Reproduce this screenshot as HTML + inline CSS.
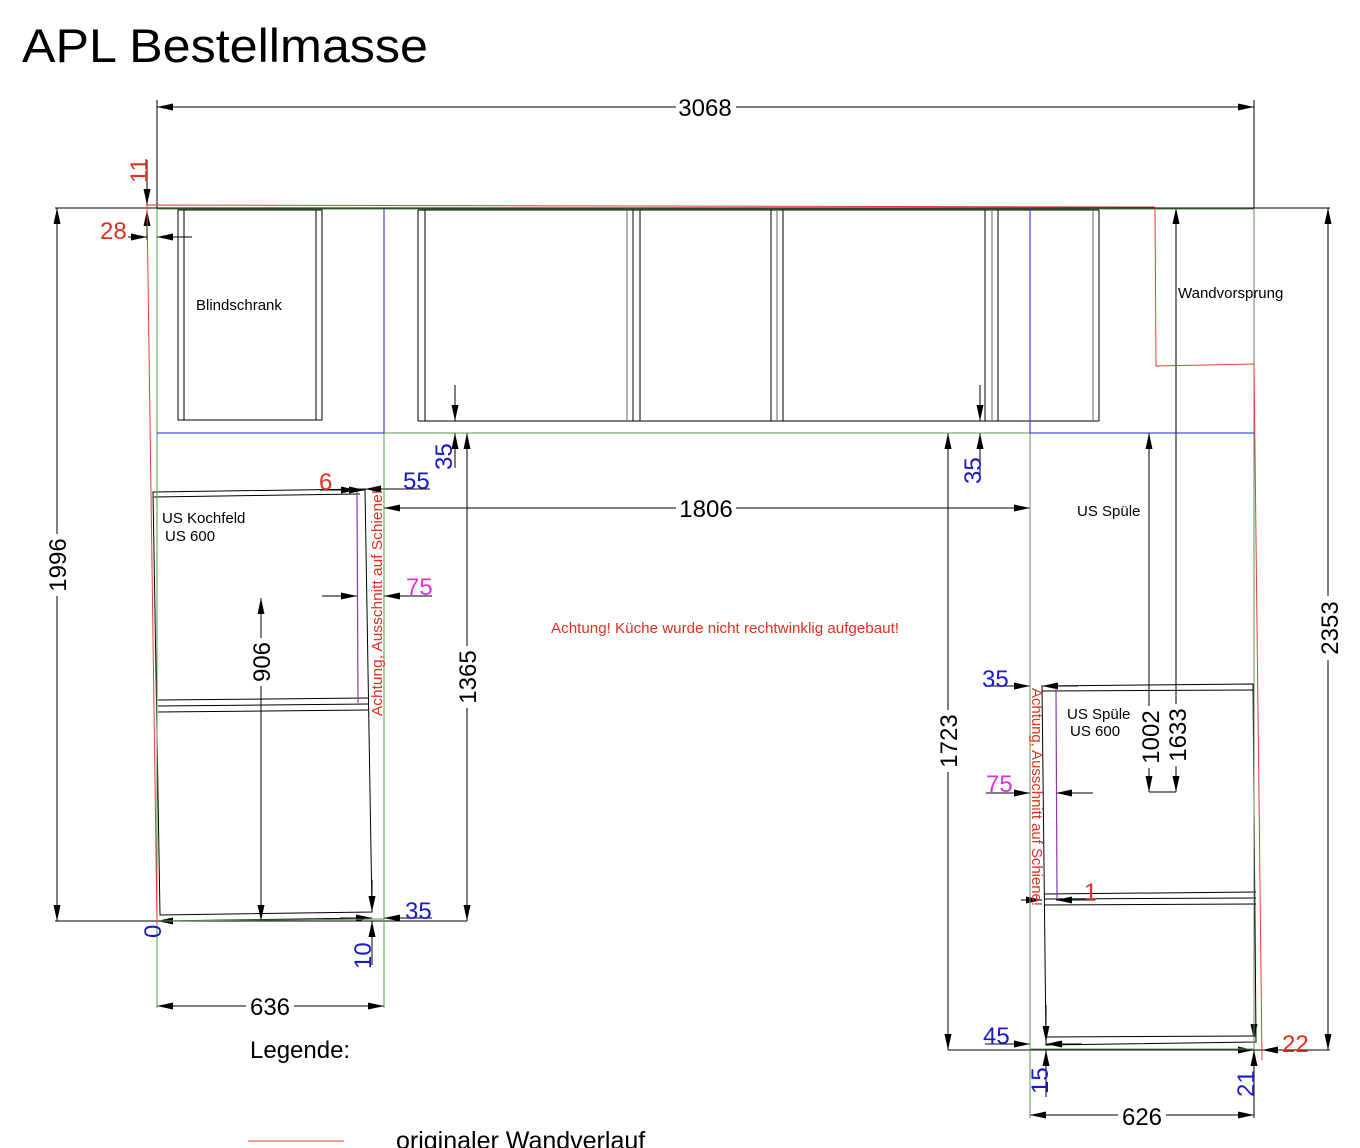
<!DOCTYPE html>
<html><head><meta charset="utf-8"><style>
html,body{margin:0;padding:0;background:#fff;}
svg{display:block;font-family:"Liberation Sans",Arial,sans-serif;}
</style></head><body>
<svg width="1360" height="1148" viewBox="0 0 1360 1148" xmlns="http://www.w3.org/2000/svg">
<defs>
<marker id="a" markerUnits="userSpaceOnUse" markerWidth="18" markerHeight="10" refX="16" refY="5" orient="auto-start-reverse"><path d="M0,1.5 L16,5 L0,8.5 Z" fill="#000"/></marker>
</defs>
<rect width="1360" height="1148" fill="#fff"/>
<text x="22" y="62" font-size="47" textLength="406" lengthAdjust="spacingAndGlyphs">APL Bestellmasse</text>

<g stroke="#000" stroke-width="1" fill="none">
<line x1="157" y1="100" x2="157" y2="208"/>
<line x1="1254" y1="100" x2="1254" y2="208"/>
<line x1="157" y1="107" x2="1254" y2="107" marker-start="url(#a)" marker-end="url(#a)"/>
<line x1="55" y1="208" x2="1330" y2="208"/>
<line x1="57" y1="208" x2="57" y2="921" marker-start="url(#a)" marker-end="url(#a)"/>
<line x1="55" y1="921" x2="467" y2="921"/>
<line x1="1328" y1="208" x2="1328" y2="1050" marker-start="url(#a)" marker-end="url(#a)"/>
<line x1="948" y1="1050" x2="1330" y2="1050"/>
<line x1="1176" y1="208" x2="1176" y2="792" marker-start="url(#a)" marker-end="url(#a)"/>
<line x1="1149" y1="433" x2="1149" y2="792" marker-start="url(#a)" marker-end="url(#a)"/>
<line x1="1149" y1="792" x2="1176" y2="792"/>
<line x1="467" y1="433" x2="467" y2="921" marker-start="url(#a)" marker-end="url(#a)"/>
<line x1="948" y1="433" x2="948" y2="1050" marker-start="url(#a)" marker-end="url(#a)"/>
<line x1="384" y1="508" x2="1030" y2="508" marker-start="url(#a)" marker-end="url(#a)"/>
<line x1="384" y1="433" x2="384" y2="1008"/>
<line x1="1030" y1="433" x2="1030" y2="1118"/>
<line x1="384" y1="433" x2="1030" y2="433"/>
<line x1="455" y1="385" x2="455" y2="421" marker-end="url(#a)"/>
<line x1="455" y1="468" x2="455" y2="433" marker-end="url(#a)"/>
<line x1="980" y1="385" x2="980" y2="421" marker-end="url(#a)"/>
<line x1="980" y1="480" x2="980" y2="433" marker-end="url(#a)"/>
<line x1="147" y1="160" x2="147" y2="205" marker-end="url(#a)"/>
<line x1="147" y1="240" x2="147" y2="210" marker-end="url(#a)"/>
<line x1="128" y1="237" x2="147" y2="237" marker-end="url(#a)"/>
<line x1="192" y1="237" x2="157" y2="237" marker-end="url(#a)"/>
<rect x="178" y="210" width="144" height="210"/>
<line x1="184" y1="210" x2="184" y2="420"/>
<line x1="316" y1="210" x2="316" y2="420"/>
<line x1="418" y1="210" x2="1099" y2="210"/>
<line x1="418" y1="421" x2="1099" y2="421"/>
<line x1="418" y1="210" x2="418" y2="421"/><line x1="425" y1="210" x2="425" y2="421"/>
<line x1="627" y1="210" x2="627" y2="421" stroke="#666"/><line x1="633" y1="210" x2="633" y2="421"/><line x1="640" y1="210" x2="640" y2="421"/>
<line x1="771" y1="210" x2="771" y2="421"/><line x1="777" y1="210" x2="777" y2="421" stroke="#666"/><line x1="783" y1="210" x2="783" y2="421"/>
<line x1="985" y1="210" x2="985" y2="421"/><line x1="992" y1="210" x2="992" y2="421" stroke="#666"/><line x1="998" y1="210" x2="998" y2="421"/>
<line x1="1093" y1="210" x2="1093" y2="421" stroke="#666"/><line x1="1099" y1="210" x2="1099" y2="421"/>
<path d="M153,492 L365,489 L372,912 L160,915 Z"/>
<line x1="154" y1="497" x2="360" y2="494"/>
<line x1="158" y1="700" x2="368" y2="698"/>
<line x1="158" y1="706" x2="368" y2="704"/>
<line x1="158" y1="712" x2="368" y2="710"/>
<line x1="160" y1="921" x2="372" y2="918"/>
<line x1="261" y1="598" x2="261" y2="921" marker-start="url(#a)" marker-end="url(#a)"/>
<line x1="320" y1="490" x2="357" y2="490" marker-end="url(#a)"/>
<line x1="340" y1="490" x2="365" y2="490" marker-end="url(#a)"/>
<line x1="430" y1="489" x2="365" y2="489" marker-end="url(#a)"/>
<line x1="322" y1="596" x2="357" y2="596" marker-end="url(#a)"/>
<line x1="432" y1="596" x2="384" y2="596" marker-end="url(#a)"/>
<line x1="197" y1="921" x2="157" y2="921" marker-end="url(#a)"/>
<line x1="340" y1="918" x2="372" y2="918" marker-end="url(#a)"/>
<line x1="432" y1="918" x2="384" y2="918" marker-end="url(#a)"/>
<line x1="372" y1="880" x2="372" y2="912" marker-end="url(#a)"/>
<line x1="372" y1="965" x2="372" y2="921" marker-end="url(#a)"/>
<line x1="157" y1="921" x2="157" y2="1008"/>
<line x1="157" y1="1006" x2="384" y2="1006" marker-start="url(#a)" marker-end="url(#a)"/>
<path d="M1042,686 L1253,684 L1256,1042 L1046,1045 Z"/>
<line x1="1042" y1="691" x2="1253" y2="690"/>
<line x1="1044" y1="894" x2="1256" y2="892"/>
<line x1="1044" y1="899" x2="1256" y2="898"/>
<line x1="1044" y1="905" x2="1256" y2="904"/>
<line x1="1046" y1="1037" x2="1256" y2="1036"/>
<line x1="985" y1="686" x2="1030" y2="686" marker-end="url(#a)"/>
<line x1="1078" y1="686" x2="1042" y2="686" marker-end="url(#a)"/>
<line x1="986" y1="793" x2="1030" y2="793" marker-end="url(#a)"/>
<line x1="1093" y1="793" x2="1056" y2="793" marker-end="url(#a)"/>
<line x1="1021" y1="900" x2="1042" y2="900" marker-end="url(#a)"/>
<line x1="1095" y1="900" x2="1056" y2="900" marker-end="url(#a)"/>
<line x1="985" y1="1044" x2="1030" y2="1044" marker-end="url(#a)"/>
<line x1="1082" y1="1044" x2="1046" y2="1044" marker-end="url(#a)"/>
<line x1="1046" y1="1005" x2="1046" y2="1042" marker-end="url(#a)"/>
<line x1="1046" y1="1097" x2="1046" y2="1050" marker-end="url(#a)"/>
<line x1="1254" y1="1000" x2="1254" y2="1040" marker-end="url(#a)"/>
<line x1="1254" y1="1097" x2="1254" y2="1050" marker-end="url(#a)"/>
<line x1="1218" y1="1050" x2="1254" y2="1050" marker-end="url(#a)"/>
<line x1="1310" y1="1050" x2="1262" y2="1050" marker-end="url(#a)"/>
<line x1="1254" y1="1050" x2="1254" y2="1118"/>
<line x1="1030" y1="1115" x2="1254" y2="1115" marker-start="url(#a)" marker-end="url(#a)"/>
</g>

<g stroke="#5a9a50" stroke-width="1" fill="none">
<line x1="157" y1="209" x2="157" y2="1008"/>
<line x1="157" y1="209" x2="1254" y2="209"/>
<line x1="384" y1="433" x2="1030" y2="433"/>
<line x1="384" y1="433" x2="384" y2="1008"/>
<line x1="1030" y1="433" x2="1030" y2="1118"/>
<line x1="1254" y1="209" x2="1254" y2="1050"/>
<line x1="160" y1="921" x2="384" y2="919"/>
<line x1="1030" y1="1049" x2="1254" y2="1049"/>
</g>
<g stroke="#2222cc" stroke-width="1">
<line x1="157" y1="433" x2="384" y2="433"/>
<line x1="384" y1="208" x2="384" y2="433"/>
<line x1="1030" y1="433" x2="1254" y2="433"/>
<line x1="1030" y1="208" x2="1030" y2="433"/>
</g>
<g stroke="#8a3aa8" stroke-width="1.2">
<line x1="357" y1="492" x2="358" y2="703"/>
<line x1="1056" y1="688" x2="1057" y2="898"/>
</g>
<g stroke="#e04030" stroke-width="1" fill="none">
<polyline points="157,925 147,205 1155,207 1156,366 1254,364 1262,1060"/>
<line x1="248" y1="1141" x2="344" y2="1141"/>
</g>

<g fill="#fff">
<rect x="676" y="95" width="60" height="24"/>
<rect x="676" y="497" width="60" height="24"/>
<rect x="455" y="646" width="24" height="62"/>
<rect x="936" y="710" width="24" height="62"/>
<rect x="1316" y="596" width="24" height="64"/>
<rect x="45" y="534" width="24" height="62"/>
<rect x="248" y="638" width="26" height="48"/>
<rect x="1137" y="706" width="26" height="62"/>
<rect x="1164" y="704" width="26" height="62"/>
<rect x="246" y="996" width="48" height="22"/>
<rect x="1118" y="1104" width="48" height="22"/>
</g>
<g font-size="24" fill="#000">
<text x="705" y="116" text-anchor="middle">3068</text>
<text x="706" y="517" text-anchor="middle">1806</text>
<text x="270" y="1015" text-anchor="middle">636</text>
<text x="1142" y="1125" text-anchor="middle">626</text>
<text transform="translate(66,565) rotate(-90)" text-anchor="middle">1996</text>
<text transform="translate(476,677) rotate(-90)" text-anchor="middle">1365</text>
<text transform="translate(957,741) rotate(-90)" text-anchor="middle">1723</text>
<text transform="translate(1338,628) rotate(-90)" text-anchor="middle">2353</text>
<text transform="translate(270,662) rotate(-90)" text-anchor="middle">906</text>
<text transform="translate(1159,737) rotate(-90)" text-anchor="middle">1002</text>
<text transform="translate(1186,735) rotate(-90)" text-anchor="middle">1633</text>
<text x="250" y="1058" font-size="24">Legende:</text>
<text x="396" y="1149" font-size="25">originaler Wandverlauf</text>
</g>
<g font-size="24" fill="#e03020">
<text transform="translate(147,183) rotate(-90)">11</text>
<text x="100" y="239">28</text>
<text x="319" y="490">6</text>
<text x="1084" y="900">1</text>
<text x="1282" y="1052">22</text>
</g>
<g font-size="24" fill="#1a1acc">
<text transform="translate(452,470) rotate(-90)">35</text>
<text transform="translate(981,484) rotate(-90)">35</text>
<text x="403" y="489">55</text>
<text x="405" y="919">35</text>
<text transform="translate(161,938) rotate(-90)">0</text>
<text transform="translate(371,969) rotate(-90)">10</text>
<text x="982" y="687">35</text>
<text x="983" y="1044">45</text>
<text transform="translate(1048,1094) rotate(-90)">15</text>
<text transform="translate(1254,1097) rotate(-90)">21</text>
</g>
<g font-size="24" fill="#dd33dd">
<text x="406" y="595">75</text>
<text x="986" y="792">75</text>
</g>
<g font-size="15" fill="#000">
<text x="196" y="310">Blindschrank</text>
<text x="1178" y="298">Wandvorsprung</text>
<text x="1077" y="516">US Spüle</text>
<text x="162" y="523">US Kochfeld</text>
<text x="165" y="541">US 600</text>
<text x="1067" y="719">US Spüle</text>
<text x="1070" y="736">US 600</text>
</g>
<g font-size="15" fill="#e03020">
<text x="551" y="633" textLength="348" lengthAdjust="spacingAndGlyphs">Achtung! Küche wurde nicht rechtwinklig aufgebaut!</text>
<text transform="translate(382,716) rotate(-90)" textLength="226" lengthAdjust="spacingAndGlyphs">Achtung, Ausschnitt auf Schiene!</text>
<text transform="translate(1032,688) rotate(90)" textLength="218" lengthAdjust="spacingAndGlyphs">Achtung, Ausschnitt auf Schiene!</text>
</g>
</svg>
</body></html>
